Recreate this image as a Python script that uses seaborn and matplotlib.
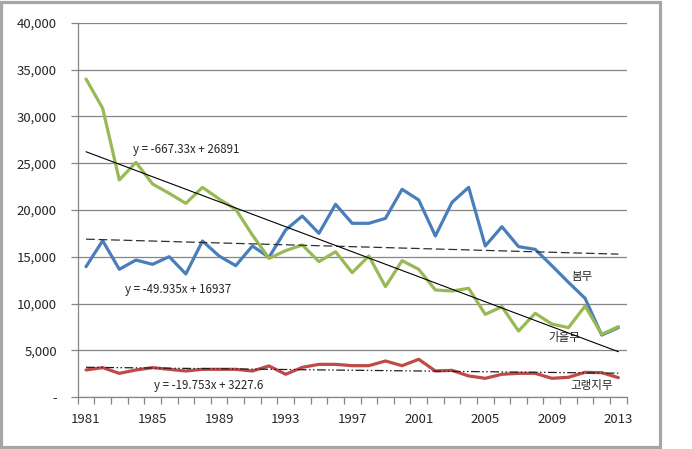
import numpy as np
import pandas as pd
import matplotlib.pyplot as plt
import seaborn as sns
from matplotlib.ticker import FixedLocator, FuncFormatter
from matplotlib.patches import Rectangle

sns.set_theme(style="white")
plt.rcParams['font.family'] = ['Noto Sans CJK KR', 'DejaVu Sans']
plt.rcParams['axes.unicode_minus'] = False

# data
years = list(range(1981, 2014))
spring = [13950, 16730, 13670, 14660, 14200, 15020, 13170, 16690, 15090, 14060,
          16160, 14950, 17870, 19360, 17510, 20610, 18580, 18580, 19110, 22210,
          21070, 17230, 20820, 22420, 16160, 18220, 16090, 15800, 14060, 12280,
          10570, 6650, 7440]
autumn = [33990, 30860, 23210, 25090, 22780, 21780, 20710, 22420, 21180, 20070,
          17330, 14840, 15660, 16270, 14490, 15550, 13310, 15090, 11820, 14590,
          13670, 11460, 11350, 11640, 8860, 9680, 7080, 8970, 7830, 7440,
          9750, 6730, 7550]
highland = [2920, 3170, 2560, 2920, 3170, 2990, 2810, 2990, 2990, 2990,
            2810, 3350, 2460, 3200, 3520, 3520, 3380, 3380, 3880, 3380,
            4060, 2810, 2880, 2280, 2030, 2460, 2560, 2560, 2030, 2140,
            2670, 2630, 2100]
series_names = ['봄무', '가을무', '고랭지무']
series_colors = ['#4A7EBB', '#98B954', '#BE4B48']

# linear trends as printed on the chart (x = 1..33)
trend_slope = [-49.935, -667.33, -19.753]
trend_icept = [16937, 26891, 3227.6]
trend_text = ['y = -49.935x + 16937', 'y = -667.33x + 26891', 'y = -19.753x + 3227.6']

df = pd.DataFrame({'year': years * 3,
                   'value': spring + autumn + highland,
                   'kind': np.repeat(series_names, len(years))})

fig = plt.figure(figsize=(6.92, 4.49), dpi=100)
ax = fig.add_axes([0.1123, 0.1151, 0.9056 - 0.1123, 0.9494 - 0.1151])

sns.lineplot(data=df, x='year', y='value', hue='kind', hue_order=series_names,
             palette=series_colors, linewidth=2.3, legend=False, ax=ax)

# trend lines
yr = np.array(years)
idx = yr - 1980
styles = [dict(color='#303030', lw=0.9, dashes=(7, 3)),
          dict(color='black', lw=0.8, ls='-'),
          dict(color='#202020', lw=0.9, dashes=(7, 2, 1.2, 2, 1.2, 2))]
for s, b, st in zip(trend_slope, trend_icept, styles):
    ax.plot(yr, s * idx + b, zorder=5, **st)

# axes
ax.set_xlim(1980.5, 2013.5)
ax.set_ylim(0, 40000)
ax.set_yticks(np.arange(0, 40001, 5000))
ax.yaxis.set_major_formatter(FuncFormatter(lambda v, p: '-' if v == 0 else f'{v:,.0f}'))
ax.set_xticks(list(range(1981, 2014, 4)))
ax.xaxis.set_minor_locator(FixedLocator(np.arange(1980.5, 2014, 1)))
ax.tick_params(axis='x', which='major', length=0, pad=11, labelsize=9.5)
ax.tick_params(axis='x', which='minor', length=5, width=0.9, color='#868686', direction='out', bottom=True)
ax.tick_params(axis='y', length=5, width=0.9, color='#868686', direction='out', left=True, pad=10, labelsize=9.5)
ax.grid(axis='y', color='#868686', lw=0.9)
ax.set_axisbelow(True)
for side in ['top', 'right']:
    ax.spines[side].set_visible(False)
for side in ['left', 'bottom']:
    ax.spines[side].set_color('#868686')
    ax.spines[side].set_linewidth(0.9)
ax.set_xlabel('')
ax.set_ylabel('')

# annotations
ax.text(1983.8, 26500, trend_text[1], fontsize=8.3, va='center', ha='left')
ax.text(1983.34, 11560, trend_text[0], fontsize=8.3, va='center', ha='left')
ax.text(1985.1, 1310, trend_text[2], fontsize=8.3, va='center', ha='left')
ax.text(2010.15, 12850, series_names[0], fontsize=8.3, va='center', ha='left')
ax.text(2008.8, 6440, series_names[1], fontsize=8.3, va='center', ha='left')
ax.text(2010.1, 1210, series_names[2], fontsize=8.3, va='center', ha='left')

# outer chart frame
fig.patches.append(Rectangle((1.5 / 692, 2.5 / 449), 658 / 692, 445 / 449,
                             transform=fig.transFigure, fill=False,
                             edgecolor='#A6A6A6', lw=2.3))

fig.savefig('out.png', dpi=100)
